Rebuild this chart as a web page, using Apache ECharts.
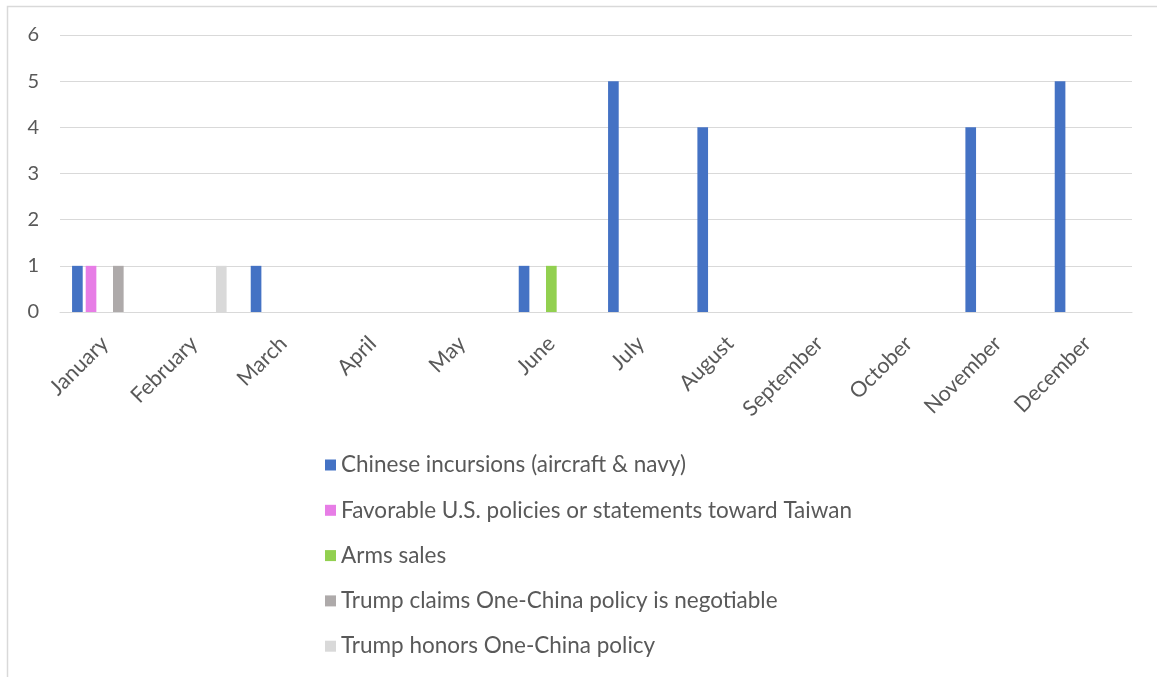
<!DOCTYPE html>
<html>
<head>
<meta charset="utf-8">
<title>Taiwan events by month</title>
<script src="https://cdn.jsdelivr.net/npm/echarts@6/dist/echarts.min.js"></script>
<style>
  html, body { margin: 0; padding: 0; background: #fff; }
  #chart { width: 1157px; height: 677px; }
</style>
</head>
<body>
<div id="chart"></div>
<script>
// Months on the category axis
var months = ['January', 'February', 'March', 'April', 'May', 'June',
              'July', 'August', 'September', 'October', 'November', 'December'];

// Event counts per month, one array per event type
var incursions = [1, 0, 1, 0, 0, 1, 5, 4, 0, 0, 4, 5];
var favorablePolicies = [1, 0, 0, 0, 0, 0, 0, 0, 0, 0, 0, 0];
var armsSales = [0, 0, 0, 0, 0, 1, 0, 0, 0, 0, 0, 0];
var negotiableClaims = [1, 0, 0, 0, 0, 0, 0, 0, 0, 0, 0, 0];
var honorsPolicy = [0, 1, 0, 0, 0, 0, 0, 0, 0, 0, 0, 0];

var seriesNames = [
  'Chinese incursions (aircraft & navy)',
  'Favorable U.S. policies or statements toward Taiwan',
  'Arms sales',
  'Trump claims One-China policy is negotiable',
  'Trump honors One-China policy'
];
var seriesData = [incursions, favorablePolicies, armsSales, negotiableClaims, honorsPolicy];
var seriesColors = ['#4472C4', '#E77DE6', '#92D050', '#AEAAAA', '#D9D9D9'];

var FONT = 'Lato, "Liberation Sans", sans-serif';
var TEXT = '#595959';

var chart = echarts.init(document.getElementById('chart'), null, { renderer: 'canvas' });

chart.setOption({
  animation: false,
  backgroundColor: '#ffffff',
  graphic: [{
    type: 'rect',
    shape: { x: 7.5, y: 6.5, width: 1200, height: 720 },
    style: { fill: 'none', stroke: '#D9D9D9', lineWidth: 1.5 },
    silent: true,
    z: -10
  }],
  grid: { left: 60, right: 25, top: 35, bottom: 365, containLabel: false },
  legend: {
    orient: 'vertical',
    left: 325,
    top: 452,
    padding: 0,
    itemWidth: 11,
    itemHeight: 11,
    itemGap: 19.3,
    icon: 'rect',
    data: seriesNames,
    textStyle: { fontFamily: FONT, fontSize: 22.5, color: TEXT, lineHeight: 26 }
  },
  xAxis: {
    type: 'category',
    data: months,
    axisLine: { show: true, lineStyle: { color: '#D9D9D9', width: 1 } },
    axisTick: { show: false },
    axisLabel: {
      interval: 0,
      rotate: 45,
      margin: 28,
      fontFamily: FONT,
      fontSize: 21.5,
      color: TEXT
    }
  },
  yAxis: {
    type: 'value',
    min: 0,
    max: 6,
    interval: 1,
    axisLine: { show: false },
    axisTick: { show: false },
    splitLine: { lineStyle: { color: '#D9D9D9', width: 1 } },
    axisLabel: { margin: 21, fontFamily: FONT, fontSize: 20, color: TEXT }
  },
  series: seriesNames.map(function (name, i) {
    return {
      name: name,
      type: 'bar',
      data: seriesData[i],
      barGap: '28%',
      barCategoryGap: '27%',
      itemStyle: { color: seriesColors[i] }
    };
  })
});
</script>
</body>
</html>
